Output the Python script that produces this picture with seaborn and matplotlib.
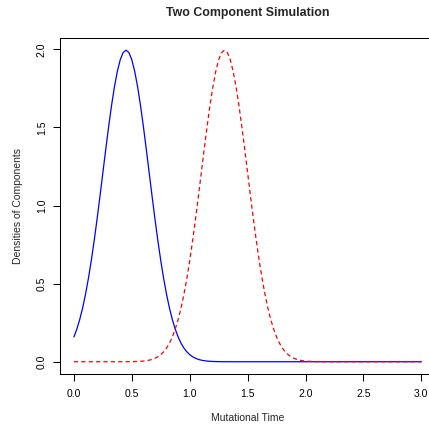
import numpy as np
import pandas as pd
import matplotlib
matplotlib.use("Agg")
import matplotlib.pyplot as plt
import seaborn as sns

# Evenly spaced sample positions along the mutational-time axis (0 to 3, step 0.025)
time_grid = np.linspace(0.0, 3.0, 121)

# Density of the early component at each sample position
first_density = [
    0.1587, 0.2086, 0.2700, 0.3439, 0.4314, 0.5327, 0.6476, 0.7751, 0.9132, 1.0594,
    1.2098, 1.3603, 1.5057, 1.6408, 1.7603, 1.8593, 1.9333, 1.9792, 1.9947, 1.9792,
    1.9333, 1.8593, 1.7603, 1.6408, 1.5057, 1.3603, 1.2098, 1.0594, 0.9132, 0.7751,
    0.6476, 0.5327, 0.4314, 0.3439, 0.2700, 0.2086, 0.1587, 0.1189, 0.0876, 0.0636,
    0.0455, 0.0320, 0.0222, 0.0151, 0.0102, 0.0067, 0.0044, 0.0028, 0.0018, 0.0011,
    0.0007, 0.0004, 0.0002, 0.0001, 0.0, 0.0, 0.0, 0.0, 0.0, 0.0,
    0.0, 0.0, 0.0, 0.0, 0.0, 0.0, 0.0, 0.0, 0.0, 0.0,
    0.0, 0.0, 0.0, 0.0, 0.0, 0.0, 0.0, 0.0, 0.0, 0.0,
    0.0, 0.0, 0.0, 0.0, 0.0, 0.0, 0.0, 0.0, 0.0, 0.0,
    0.0, 0.0, 0.0, 0.0, 0.0, 0.0, 0.0, 0.0, 0.0, 0.0,
    0.0, 0.0, 0.0, 0.0, 0.0, 0.0, 0.0, 0.0, 0.0, 0.0,
    0.0, 0.0, 0.0, 0.0, 0.0, 0.0, 0.0, 0.0, 0.0, 0.0,
    0.0,
]

# Density of the late component at each sample position
second_density = [
    0.0, 0.0, 0.0, 0.0, 0.0, 0.0, 0.0, 0.0, 0.0, 0.0,
    0.0, 0.0, 0.0, 0.0, 0.0, 0.0, 0.0, 0.0001, 0.0002, 0.0004,
    0.0007, 0.0011, 0.0018, 0.0028, 0.0044, 0.0067, 0.0102, 0.0151, 0.0222, 0.0320,
    0.0455, 0.0636, 0.0876, 0.1189, 0.1587, 0.2086, 0.2700, 0.3439, 0.4314, 0.5327,
    0.6476, 0.7751, 0.9132, 1.0594, 1.2098, 1.3603, 1.5057, 1.6408, 1.7603, 1.8593,
    1.9333, 1.9792, 1.9947, 1.9792, 1.9333, 1.8593, 1.7603, 1.6408, 1.5057, 1.3603,
    1.2098, 1.0594, 0.9132, 0.7751, 0.6476, 0.5327, 0.4314, 0.3439, 0.2700, 0.2086,
    0.1587, 0.1189, 0.0876, 0.0636, 0.0455, 0.0320, 0.0222, 0.0151, 0.0102, 0.0067,
    0.0044, 0.0028, 0.0018, 0.0011, 0.0007, 0.0004, 0.0002, 0.0001, 0.0, 0.0,
    0.0, 0.0, 0.0, 0.0, 0.0, 0.0, 0.0, 0.0, 0.0, 0.0,
    0.0, 0.0, 0.0, 0.0, 0.0, 0.0, 0.0, 0.0, 0.0, 0.0,
    0.0, 0.0, 0.0, 0.0, 0.0, 0.0, 0.0, 0.0, 0.0, 0.0,
    0.0,
]

component_names = ["first", "second"]
x_ticks = [0.0, 0.5, 1.0, 1.5, 2.0, 2.5, 3.0]
y_ticks = [0.0, 0.5, 1.0, 1.5, 2.0]

df = pd.DataFrame({
    "time": np.concatenate([time_grid, time_grid]),
    "density": first_density + second_density,
    "component": [component_names[0]] * len(first_density)
    + [component_names[1]] * len(second_density),
})

sns.set_style("ticks")
plt.rcParams["font.family"] = ["Liberation Sans", "DejaVu Sans"]
plt.rcParams["axes.linewidth"] = 0.75

fig = plt.figure(figsize=(4.29, 4.29), dpi=100)
ax = fig.add_axes([0.1399, 0.1277, 0.8746, 0.7844])

sns.lineplot(
    data=df, x="time", y="density",
    hue="component", style="component",
    palette={"first": "#0000FF", "second": "#FF0000"},
    dashes={"first": "", "second": (3.4, 2.5)},
    estimator=None, sort=False, legend=False,
    linewidth=0.9, ax=ax,
)

ax.set_xlim(-0.12, 3.12)
ax.set_ylim(-0.0798, 2.0745)
ax.set_xticks(x_ticks)
ax.set_yticks(y_ticks)
ax.set_xticklabels([f"{v:.1f}" for v in x_ticks])
ax.set_yticklabels([f"{v:.1f}" for v in y_ticks])

for side in ["top", "right", "left", "bottom"]:
    ax.spines[side].set_visible(True)
    ax.spines[side].set_color("black")
    ax.spines[side].set_linewidth(0.75)

ax.tick_params(axis="both", direction="out", length=5, width=0.75,
               color="black", labelsize=7.5, labelcolor="black")
ax.tick_params(axis="x", pad=5.5)
ax.tick_params(axis="y", pad=4.5)
for lab in ax.get_yticklabels():
    lab.set_rotation(90)
    lab.set_va("center")
    lab.set_ha("right")

ax.set_xlabel("Mutational Time", fontsize=7.5)
ax.xaxis.set_label_coords(0.5, -0.13)
ax.xaxis.label.set_va("center")
ax.set_ylabel("Densities of Components", fontsize=7.5)
ax.yaxis.set_label_coords(-0.111, 0.5)
ax.yaxis.label.set_va("center")

ax.set_title("Two Component Simulation", fontsize=8.9, fontweight="bold",
             y=1.073, va="center", pad=0)

fig.savefig("out.png", dpi=100, facecolor="white")
